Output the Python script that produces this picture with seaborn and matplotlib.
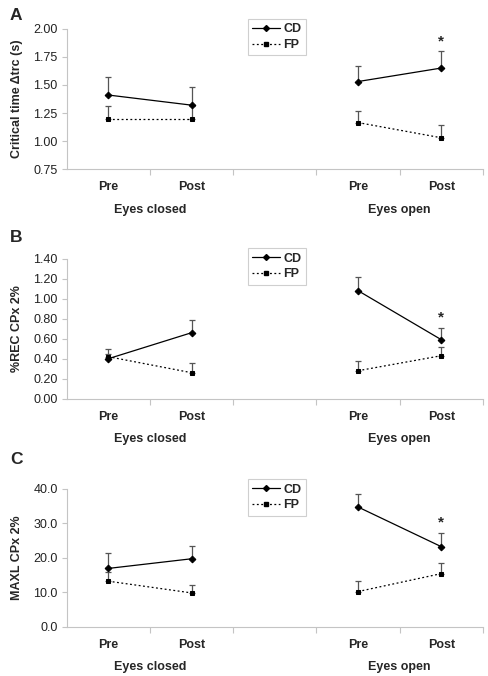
import numpy as np
import pandas as pd
import matplotlib
matplotlib.use("Agg")
import matplotlib.pyplot as plt
import seaborn as sns
from matplotlib.lines import Line2D

sns.set_style("white")
plt.rcParams['font.family'] = ['Liberation Sans', 'DejaVu Sans']

# category layout: Pre / Post (eyes closed), gap, Pre / Post (eyes open)
positions = [0, 1, 3, 4]
conditions = ["Eyes closed", "Eyes closed", "Eyes open", "Eyes open"]
phase_labels = ["Pre", "Post", "Pre", "Post"]

# panel A: critical time
a_cd = [1.41, 1.32, 1.53, 1.65]
a_cd_err = [0.16, 0.16, 0.14, 0.15]
a_fp = [1.20, 1.20, 1.165, 1.03]
a_fp_err = [0.11, 0.11, 0.105, 0.11]

# panel B: %REC
b_cd = [0.40, 0.66, 1.08, 0.59]
b_cd_err = [0.05, 0.13, 0.14, 0.12]
b_fp = [0.42, 0.26, 0.28, 0.43]
b_fp_err = [0.08, 0.10, 0.10, 0.09]

# panel C: MAXL
c_cd = [16.9, 19.7, 34.7, 23.2]
c_cd_err = [4.6, 3.6, 3.7, 4.1]
c_fp = [13.2, 9.8, 10.2, 15.4]
c_fp_err = [2.6, 2.4, 3.0, 3.0]

panels = [
    dict(letter="A", ylabel="Critical time \u0394trc (s)", cd=a_cd, cd_err=a_cd_err,
         fp=a_fp, fp_err=a_fp_err, ylim=(0.75, 2.00), ticks=np.arange(0.75, 2.01, 0.25),
         fmt="{:.2f}", rect=[0.1367, 0.7496, 0.853, 0.208], leg_top=1.069, letter_y=15),
    dict(letter="B", ylabel="%REC CPx 2%", cd=b_cd, cd_err=b_cd_err,
         fp=b_fp, fp_err=b_fp_err, ylim=(0.0, 1.40), ticks=np.arange(0.0, 1.41, 0.2),
         fmt="{:.2f}", rect=[0.1367, 0.4102, 0.853, 0.2071], leg_top=1.074, letter_y=238),
    dict(letter="C", ylabel="MAXL CPx 2%", cd=c_cd, cd_err=c_cd_err,
         fp=c_fp, fp_err=c_fp_err, ylim=(0.0, 40.0), ticks=np.arange(0, 40.1, 10),
         fmt="{:.1f}", rect=[0.1367, 0.0729, 0.853, 0.2041], leg_top=1.068, letter_y=460),
]

W, H = 488, 676
fig = plt.figure(figsize=(W / 100, H / 100), dpi=100)
spine_col = "#c4c4c4"
err_col = "#555555"
fs = 9

for p in panels:
    ax = fig.add_axes(p["rect"])
    df = pd.DataFrame({
        "pos": positions * 2,
        "val": p["cd"] + p["fp"],
        "series": ["CD"] * 4 + ["FP"] * 4,
        "cond": conditions * 2,
    })
    # upward-only error bars first so markers sit on top
    ax.errorbar(positions, p["cd"], yerr=[np.zeros(4), p["cd_err"]], fmt="none",
                ecolor=err_col, elinewidth=0.9, capsize=2.2, capthick=0.9, zorder=1)
    ax.errorbar(positions, p["fp"], yerr=[np.zeros(4), p["fp_err"]], fmt="none",
                ecolor=err_col, elinewidth=0.9, capsize=2.2, capthick=0.9, zorder=1)
    sns.lineplot(data=df, x="pos", y="val", style="series", units="cond", estimator=None,
                 color="black", markers={"CD": "D", "FP": "s"},
                 dashes={"CD": "", "FP": (1.5, 2)}, markersize=3.4, linewidth=0.9,
                 markeredgecolor="black", legend=False, ax=ax, zorder=3)

    # asterisk over eyes-open post CD
    ax.annotate("*", xy=(positions[3], p["cd"][3] + p["cd_err"][3]), xytext=(0, 2),
                textcoords="offset points", ha="center", va="bottom",
                fontsize=11, fontweight="bold")

    ax.set_xlim(-0.5, 4.5)
    ax.set_ylim(*p["ylim"])
    ax.set_yticks(p["ticks"])
    ax.set_yticklabels([p["fmt"].format(t) for t in p["ticks"]], fontsize=fs, color="#222222")
    ax.set_xticks([0.5, 1.5, 2.5, 3.5, 4.5])
    ax.set_xticklabels([])
    ax.tick_params(axis="both", which="major", direction="out", length=3.5, width=0.8,
                   color=spine_col, pad=3)
    ax.tick_params(axis="x", length=4, bottom=True)
    ax.tick_params(axis="y", left=True)
    for side in ["top", "right"]:
        ax.spines[side].set_visible(False)
    for side in ["left", "bottom"]:
        ax.spines[side].set_color(spine_col)
        ax.spines[side].set_linewidth(0.8)
    ax.set_xlabel("")
    ax.set_ylabel(p["ylabel"], fontsize=fs, fontweight="bold")
    ax.yaxis.set_label_coords(-0.105, 0.5)

    # category and group labels below axis
    for x, lab in zip(positions, phase_labels):
        ax.annotate(lab, xy=(x, 0), xycoords=("data", "axes fraction"), xytext=(0, -13),
                    textcoords="offset points", ha="center", va="center",
                    fontsize=fs, fontweight="bold")
    for x, lab in [(0.5, "Eyes closed"), (3.5, "Eyes open")]:
        ax.annotate(lab, xy=(x, 0), xycoords=("data", "axes fraction"), xytext=(0, -29),
                    textcoords="offset points", ha="center", va="center",
                    fontsize=fs, fontweight="bold")

    handles = [
        Line2D([], [], color="black", lw=0.9, marker="D", markersize=3, label="CD"),
        Line2D([], [], color="black", lw=0.9, ls=(0, (1.5, 2)), marker="s", markersize=3, label="FP"),
    ]
    leg = ax.legend(handles=handles, loc="upper left", bbox_to_anchor=(0.4355, p["leg_top"]),
                    borderaxespad=0, frameon=True, fancybox=False, fontsize=fs,
                    handlelength=2.2, handletextpad=0.3, borderpad=0.35, labelspacing=0.3)
    leg.get_frame().set_edgecolor(spine_col)
    leg.get_frame().set_linewidth(0.8)
    for t in leg.get_texts():
        t.set_fontweight("bold")

    fig.text(10 / W, 1 - p["letter_y"] / H, p["letter"], fontsize=12.5, fontweight="bold",
             ha="left", va="center")

fig.savefig("out.png", dpi=100)
